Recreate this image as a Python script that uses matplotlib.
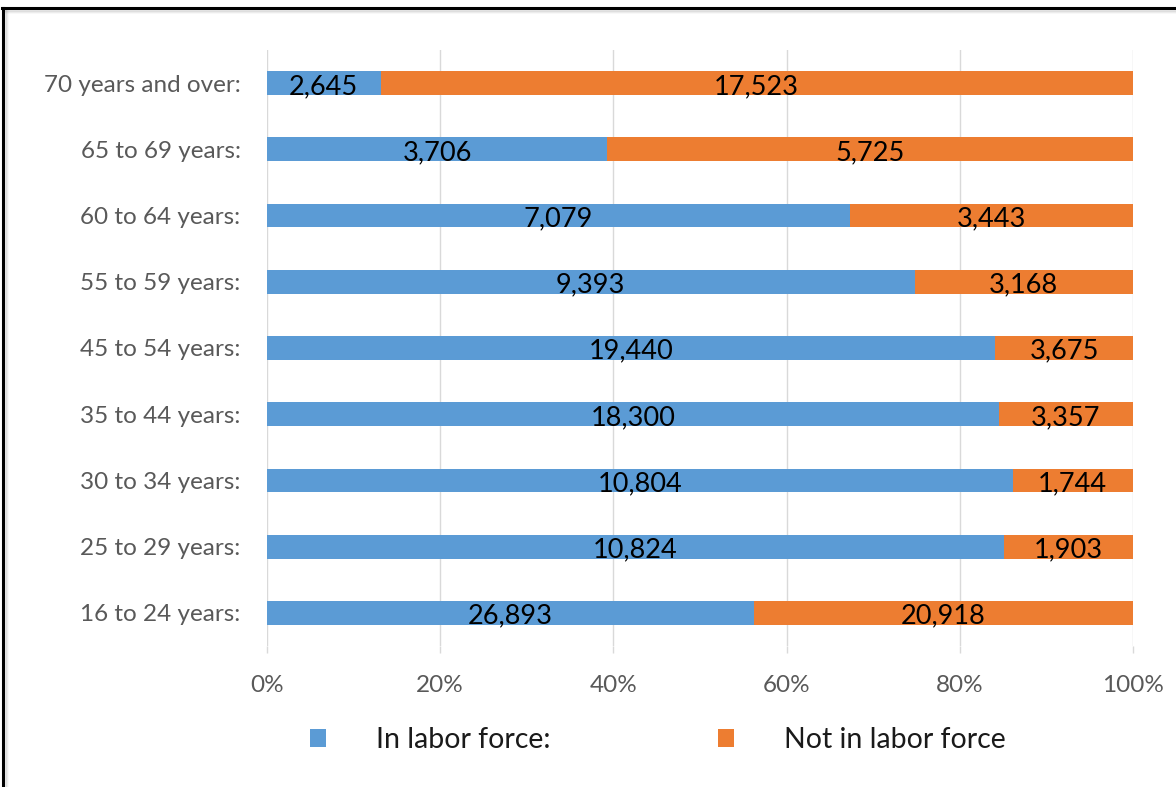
import matplotlib
matplotlib.use("Agg")
import matplotlib.pyplot as plt
from matplotlib.patches import Patch
from matplotlib.lines import Line2D
import numpy as np

# Labor force status by age group (counts)
age_groups = ["16 to 24 years:", "25 to 29 years:", "30 to 34 years:", "35 to 44 years:",
              "45 to 54 years:", "55 to 59 years:", "60 to 64 years:", "65 to 69 years:",
              "70 years and over:"]
in_labor_force = [26893, 10824, 10804, 18300, 19440, 9393, 7079, 3706, 2645]
not_in_labor_force = [20918, 1903, 1744, 3357, 3675, 3168, 3443, 5725, 17523]
series_names = ["In labor force:", "Not in labor force"]
x_tick_labels = ["0%", "20%", "40%", "60%", "80%", "100%"]

BLUE = "#5B9BD5"
ORANGE = "#ED7D31"
GRID = "#D9D9D9"
TICK_TEXT = "#595959"

plt.rcParams["font.family"] = ["Lato", "DejaVu Sans"]

fig = plt.figure(figsize=(11.76, 7.87), dpi=100)
ax = fig.add_axes([267 / 1176, 1 - 646 / 787, 866 / 1176, 596 / 787])

inf = np.array(in_labor_force, dtype=float)
notf = np.array(not_in_labor_force, dtype=float)
total = inf + notf
share_in = inf / total
share_out = notf / total
y = np.arange(len(age_groups))

bars_in = ax.barh(y, share_in, height=0.36, color=BLUE, zorder=3)
bars_out = ax.barh(y, share_out, left=share_in, height=0.36, color=ORANGE, zorder=3)

for bars, values in ((bars_in, in_labor_force), (bars_out, not_in_labor_force)):
    for rect, v in zip(bars, values):
        cx = rect.get_x() + rect.get_width() / 2
        cy = rect.get_y() + rect.get_height() / 2
        ax.text(cx, cy - 0.05, f"{v:,}", ha="center", va="center",
                fontsize=19.5, color="#000000", zorder=4)

ax.set_xlim(0, 1)
ax.set_ylim(-0.5, len(age_groups) - 0.5)
ax.set_xticks(np.linspace(0, 1, len(x_tick_labels)))
ax.set_xticklabels(x_tick_labels)
ax.set_yticks(y)
ax.set_yticklabels(age_groups)
ax.tick_params(axis="x", length=5, color=GRID, width=1, pad=16,
               labelsize=17.5, labelcolor=TICK_TEXT)
ax.tick_params(axis="y", length=0, pad=19, labelsize=17.5, labelcolor=TICK_TEXT)
ax.grid(axis="x", color=GRID, linewidth=1, zorder=0)
for s in ax.spines.values():
    s.set_visible(False)

handles = [Patch(facecolor=BLUE, edgecolor="none"), Patch(facecolor=ORANGE, edgecolor="none")]
fig.legend(handles, series_names, loc="center", bbox_to_anchor=(658 / 1176, 1 - 740 / 787),
           ncol=2, frameon=False, fontsize=20.5, handlelength=0.56, handleheight=0.56,
           handletextpad=1.75, columnspacing=5.9, labelcolor="#1a1a1a")

# Frame around the chart with a soft shadow along the inner edges
for i, a in enumerate([0.20, 0.12, 0.06]):
    fig.add_artist(Line2D([5 / 1176, 1], [1 - (10.5 + i) / 787] * 2, color="#808080",
                          alpha=a, linewidth=1.2, transform=fig.transFigure))
    fig.add_artist(Line2D([(5.5 + i) / 1176] * 2, [0, 1 - 10 / 787], color="#808080",
                          alpha=a, linewidth=1.2, transform=fig.transFigure))
fig.add_artist(Line2D([2 / 1176, 1], [1 - 8 / 787] * 2, color="black", linewidth=2.2,
                      transform=fig.transFigure))
fig.add_artist(Line2D([3 / 1176, 3 / 1176], [0, 1 - 8 / 787], color="black", linewidth=2.2,
                      transform=fig.transFigure))

fig.savefig("out.png", dpi=100)
